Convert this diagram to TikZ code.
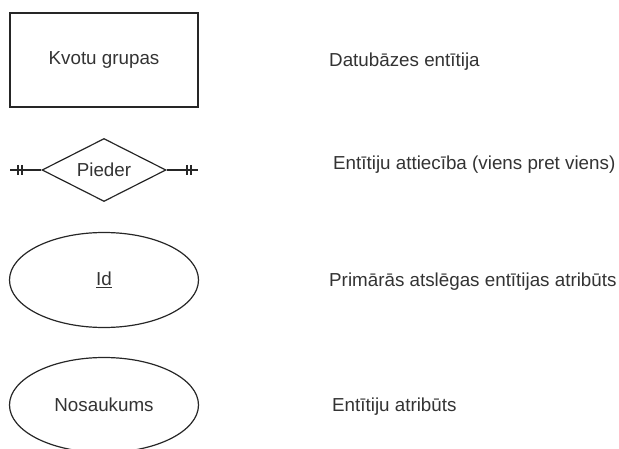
\documentclass[tikz,border=0pt]{standalone}
\usepackage{fontspec}
\setmainfont{Liberation Sans}
\usetikzlibrary{shapes.geometric}
\definecolor{txt}{HTML}{333333}
\begin{document}
\begin{tikzpicture}[x=1pt,y=-1pt,
  every node/.style={font=\fontsize{18.8}{22}\selectfont, text=txt},
  shp/.style={draw=black!85, line width=1.2pt, inner sep=0pt},
  lbl/.style={anchor=west, inner sep=0pt},
  bar/.style={draw=black!85, line width=1.2pt}]
\useasboundingbox (0,0) rectangle (619,449);
\clip (0,0) rectangle (619,449);
\node[shp, minimum width=188, minimum height=94] (ent) at (104,60) {Kvotu grupas};
\node[shp, diamond, minimum width=124, minimum height=63, aspect=2] (rel) at (104,170) {Pieder};
\node[shp, ellipse, minimum width=189, minimum height=95] (pk) at (104,280) {\underline{Id}};
\node[shp, ellipse, minimum width=189, minimum height=95] (att) at (104,405) {Nosaukums};
\coordinate (l) at (10,170);
\coordinate (r) at (198,170);
\draw[bar] (l) -- (rel.west);
\draw[bar] (rel.east) -- (r);
\draw[bar] (18,165) -- (18,175) (22,165) -- (22,175);
\draw[bar] (187,165) -- (187,175) (191,165) -- (191,175);
\node[lbl] (t1) at (329,62) {Datubāzes entītija};
\node[lbl] (t2) at (333,165) {Entītiju attiecība (viens pret viens)};
\node[lbl] (t3) at (329,282) {Primārās atslēgas entītijas atribūts};
\node[lbl] (t4) at (332,407) {Entītiju atribūts};
\end{tikzpicture}
\end{document}
